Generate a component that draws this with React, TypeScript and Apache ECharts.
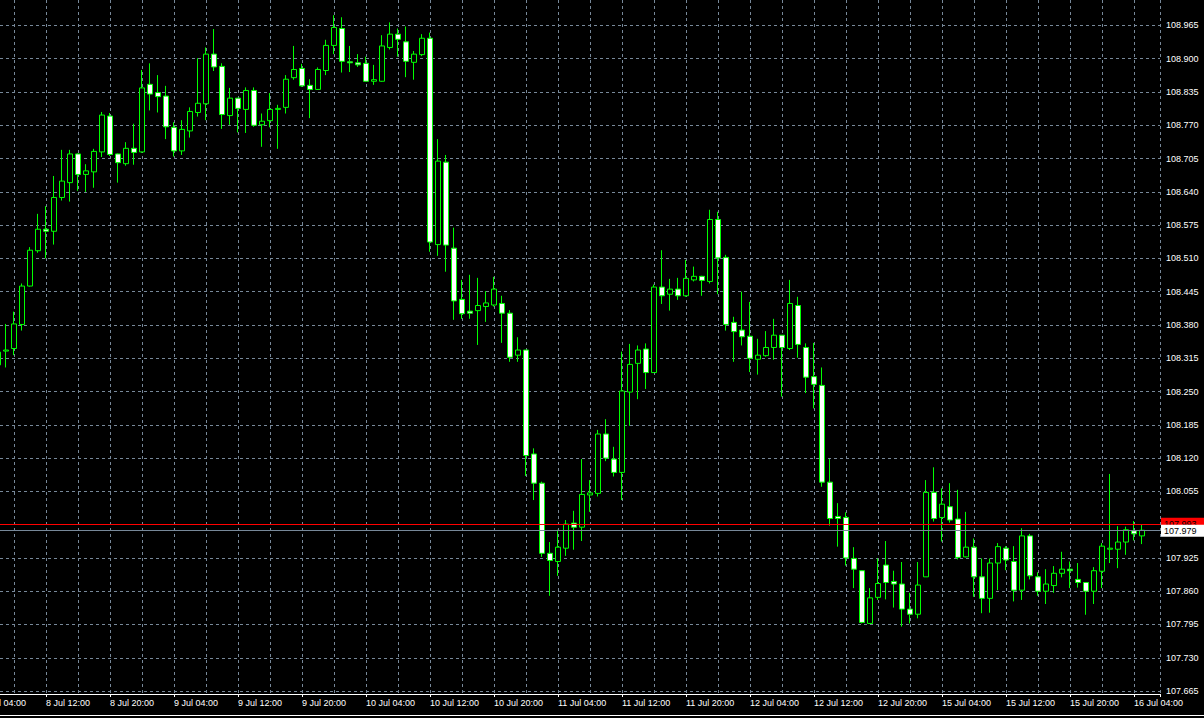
import React, { useEffect, useRef } from "react";
import * as echarts from "echarts";

// Hour index 0 = 8 Jul 04:00 (trading hours, weekend skipped). First candle = 8 Jul 06:00.
const firstHour = 2;
const timeLabels = [
  "8 Jul 04:00", "8 Jul 12:00", "8 Jul 20:00", "9 Jul 04:00", "9 Jul 12:00", "9 Jul 20:00",
  "10 Jul 04:00", "10 Jul 12:00", "10 Jul 20:00", "11 Jul 04:00", "11 Jul 12:00", "11 Jul 20:00",
  "12 Jul 04:00", "12 Jul 12:00", "12 Jul 20:00", "15 Jul 04:00", "15 Jul 12:00", "15 Jul 20:00",
  "16 Jul 04:00",
];
const priceTicks = [
  107.665, 107.73, 107.795, 107.86, 107.925, 107.99, 108.055, 108.12, 108.185, 108.25, 108.315,
  108.38, 108.445, 108.51, 108.575, 108.64, 108.705, 108.77, 108.835, 108.9, 108.965,
];
const askPrice = 107.993;
const bidPrice = 107.979;

const opens = [
  108.302, 108.329, 108.334, 108.381, 108.456, 108.525, 108.567, 108.563, 108.629, 108.658,
  108.714, 108.674, 108.679, 108.718, 108.788, 108.714, 108.695, 108.725, 108.718, 108.850,
  108.834, 108.827, 108.766, 108.720, 108.759, 108.795, 108.812, 108.909, 108.885, 108.789,
  108.823, 108.801, 108.838, 108.771, 108.779, 108.801, 108.805, 108.863, 108.881, 108.848,
  108.840, 108.877, 108.926, 108.959, 108.894, 108.892, 108.891, 108.856, 108.856, 108.922,
  108.948, 108.933, 108.893, 108.908, 108.940, 108.537, 108.698, 108.530, 108.430, 108.407,
  108.408, 108.416, 108.419, 108.422, 108.403, 108.321, 108.331, 108.128, 108.071, 107.934,
  107.918, 107.944, 107.993, 107.985, 108.048, 108.051, 108.167, 108.118, 108.092, 108.249,
  108.305, 108.333, 108.287, 108.454, 108.440, 108.450, 108.437, 108.468, 108.475, 108.465,
  108.586, 108.512, 108.385, 108.370, 108.358, 108.313, 108.320, 108.336, 108.360, 108.334,
  108.418, 108.336, 108.279, 108.262, 108.073, 108.006, 108.004, 107.924, 107.900, 107.797,
  107.848, 107.911, 107.879, 107.874, 107.825, 107.815, 107.888, 108.053, 108.004, 108.025,
  108.001, 107.927, 107.946, 107.888, 107.846, 107.915, 107.944, 107.918, 107.862, 107.968,
  107.888, 107.860, 107.871, 107.895, 107.903, 107.883, 107.877, 107.860, 107.899, 107.942,
  107.942, 107.956, 107.978, 107.968,
];
const closes = [
  108.327, 108.331, 108.382, 108.456, 108.526, 108.567, 108.563, 108.629, 108.661, 108.714,
  108.674, 108.681, 108.719, 108.790, 108.713, 108.697, 108.725, 108.717, 108.843, 108.831,
  108.826, 108.767, 108.720, 108.762, 108.797, 108.813, 108.909, 108.884, 108.791, 108.823,
  108.803, 108.838, 108.770, 108.778, 108.801, 108.803, 108.860, 108.879, 108.847, 108.840,
  108.879, 108.926, 108.961, 108.895, 108.892, 108.888, 108.856, 108.859, 108.925, 108.948,
  108.938, 108.895, 108.909, 108.940, 108.542, 108.700, 108.536, 108.427, 108.402, 108.403,
  108.418, 108.423, 108.450, 108.403, 108.317, 108.331, 108.125, 108.071, 107.934, 107.920,
  107.946, 107.991, 107.985, 108.049, 108.052, 108.167, 108.120, 108.092, 108.251, 108.303,
  108.331, 108.287, 108.454, 108.437, 108.450, 108.437, 108.471, 108.475, 108.467, 108.586,
  108.511, 108.381, 108.367, 108.357, 108.315, 108.321, 108.336, 108.360, 108.336, 108.422,
  108.342, 108.278, 108.264, 108.073, 108.002, 108.002, 107.925, 107.903, 107.799, 107.847,
  107.875, 107.877, 107.874, 107.825, 107.815, 107.872, 108.053, 108.002, 108.030, 107.999,
  107.926, 107.946, 107.888, 107.846, 107.915, 107.947, 107.921, 107.862, 107.968, 107.890,
  107.860, 107.874, 107.895, 107.903, 107.900, 107.877, 107.860, 107.900, 107.948, 107.944,
  107.956, 107.980, 107.972, 107.979,
];
const lows = [
  108.288, 108.297, 108.321, 108.369, 108.455, 108.521, 108.510, 108.537, 108.623, 108.621,
  108.642, 108.640, 108.648, 108.708, 108.710, 108.658, 108.691, 108.693, 108.716, 108.799,
  108.795, 108.743, 108.709, 108.712, 108.746, 108.787, 108.780, 108.876, 108.763, 108.771,
  108.756, 108.755, 108.767, 108.728, 108.766, 108.724, 108.793, 108.859, 108.845, 108.784,
  108.839, 108.868, 108.909, 108.873, 108.874, 108.884, 108.855, 108.849, 108.855, 108.918,
  108.904, 108.864, 108.859, 108.905, 108.523, 108.515, 108.484, 108.390, 108.392, 108.392,
  108.341, 108.386, 108.416, 108.345, 108.308, 108.308, 108.085, 108.038, 107.927, 107.851,
  107.890, 107.929, 107.941, 107.958, 108.015, 108.045, 108.114, 108.084, 108.038, 108.183,
  108.235, 108.255, 108.287, 108.421, 108.408, 108.429, 108.435, 108.465, 108.437, 108.461,
  108.440, 108.369, 108.308, 108.340, 108.288, 108.283, 108.318, 108.312, 108.240, 108.331,
  108.316, 108.247, 108.217, 108.064, 107.988, 107.947, 107.910, 107.866, 107.797, 107.796,
  107.843, 107.844, 107.828, 107.791, 107.797, 107.807, 107.888, 107.996, 107.957, 107.994,
  107.922, 107.926, 107.849, 107.817, 107.818, 107.862, 107.901, 107.840, 107.843, 107.883,
  107.851, 107.835, 107.857, 107.887, 107.866, 107.867, 107.814, 107.835, 107.866, 107.915,
  107.905, 107.931, 107.959, 107.952,
];
const highs = [
  108.341, 108.382, 108.406, 108.461, 108.532, 108.597, 108.612, 108.671, 108.722, 108.722,
  108.715, 108.694, 108.724, 108.796, 108.794, 108.715, 108.737, 108.773, 108.878, 108.891,
  108.868, 108.847, 108.776, 108.780, 108.805, 108.901, 108.922, 108.958, 108.891, 108.843,
  108.823, 108.844, 108.844, 108.793, 108.833, 108.810, 108.868, 108.925, 108.890, 108.860,
  108.883, 108.937, 108.985, 108.981, 108.925, 108.909, 108.904, 108.888, 108.946, 108.971,
  108.959, 108.963, 108.915, 108.948, 108.951, 108.743, 108.712, 108.570, 108.468, 108.478,
  108.472, 108.446, 108.474, 108.437, 108.409, 108.356, 108.331, 108.139, 108.074, 107.956,
  107.980, 107.999, 108.017, 108.118, 108.077, 108.175, 108.196, 108.142, 108.328, 108.343,
  108.340, 108.344, 108.459, 108.526, 108.470, 108.472, 108.507, 108.494, 108.476, 108.605,
  108.601, 108.517, 108.396, 108.445, 108.425, 108.353, 108.368, 108.392, 108.360, 108.468,
  108.435, 108.344, 108.345, 108.297, 108.118, 108.032, 108.014, 107.946, 107.901, 107.866,
  107.924, 107.958, 107.900, 107.917, 107.857, 107.917, 108.077, 108.102, 108.061, 108.071,
  108.058, 108.015, 107.963, 107.924, 107.924, 107.954, 107.948, 107.948, 107.983, 107.972,
  107.897, 107.903, 107.909, 107.937, 107.918, 107.915, 107.877, 107.907, 107.954, 108.089,
  107.987, 107.986, 107.997, 107.991,
];

const FONT = "'Liberation Sans', Arial, sans-serif";
const GRID_COLOR = "#778899";
const LIME = "#00ff00";

export default function App() {
  const ref = useRef<HTMLDivElement>(null);
  useEffect(() => {
    if (!ref.current) return;
    const chart = echarts.init(ref.current, undefined, { renderer: "svg" });
    const data = opens.map((o, i) => [firstHour + i, o, closes[i], lows[i], highs[i]]);
    const xMax = 147.25;
    const dash = { color: GRID_COLOR, type: [3, 3] as any, width: 1 };
    chart.setOption({
      animation: false,
      backgroundColor: "#000000",
      grid: { left: -18, right: 44, top: 0, bottom: 24, containLabel: false, outerBoundsMode: "none" },
      xAxis: [
        {
          type: "value", min: 0, max: xMax, interval: 4,
          axisLine: { show: false }, axisTick: { show: false }, axisLabel: { show: false },
          splitLine: { show: true, lineStyle: dash },
        },
        {
          type: "value", min: 0, max: xMax, interval: 8, position: "bottom",
          axisLine: { show: true, onZero: false, lineStyle: { color: "#ffffff", width: 1 } },
          axisTick: { show: true, length: 3, lineStyle: { color: "#ffffff" } },
          splitLine: { show: false },
          axisLabel: {
            show: true, color: "#ffffff", fontFamily: FONT, fontSize: 9, margin: 4, align: "left",
            formatter: (v: number) => (Number.isInteger(v) && v % 8 === 0 && timeLabels[v / 8]) ? timeLabels[v / 8] : "",
          },
        },
      ],
      yAxis: {
        type: "value", position: "right", scale: true,
        min: 107.6592, max: 109.0147,
        axisLine: { show: true, lineStyle: { color: "#ffffff", width: 1 } },
        axisTick: { show: false, customValues: priceTicks },
        axisLabel: {
          color: "#ffffff", fontFamily: FONT, fontSize: 9, margin: 6,
          customValues: priceTicks,
          formatter: (v: number) => v.toFixed(3),
        },
        splitLine: { show: true, lineStyle: dash },
      },
      series: [
        {
          type: "candlestick",
          xAxisIndex: 0,
          data,
          encode: { x: 0, y: [1, 2, 3, 4] },
          barWidth: 5,
          itemStyle: {
            color: "#000000", color0: "#ffffff",
            borderColor: LIME, borderColor0: LIME, borderColorDoji: LIME, borderWidth: 1,
          },
          markLine: {
            silent: true, symbol: ["none", "none"], animation: false,
            data: [
              {
                yAxis: askPrice,
                lineStyle: { color: "#ff0000", type: "solid", width: 1 },
                label: {
                  show: true, position: "end", distance: 1, formatter: askPrice.toFixed(3),
                  backgroundColor: "#ff0000", color: "#000000", fontFamily: FONT, fontSize: 9,
                  padding: [1, 2, 1, 3], width: 38, lineHeight: 10, offset: [0, -1],
                },
              },
              {
                yAxis: bidPrice,
                lineStyle: { color: GRID_COLOR, type: "solid", width: 1 },
                label: {
                  show: true, position: "end", distance: 1, formatter: bidPrice.toFixed(3),
                  backgroundColor: "#ffffff", color: "#000000", fontFamily: FONT, fontSize: 9,
                  padding: [1, 2, 1, 3], width: 38, lineHeight: 10, offset: [0, 1],
                },
              },
            ],
          },
        },
      ],
      graphic: [
        { type: "line", shape: { x1: 0, y1: 715.5, x2: 1204, y2: 715.5 }, style: { stroke: "#ffffff", lineWidth: 1 }, silent: true },
      ],
    });
    return () => chart.dispose();
  }, []);
  return (
    <div
      ref={ref}
      style={{ position: "fixed", left: 0, top: 0, width: 1204, height: 718, background: "#000" }}
    />
  );
}
